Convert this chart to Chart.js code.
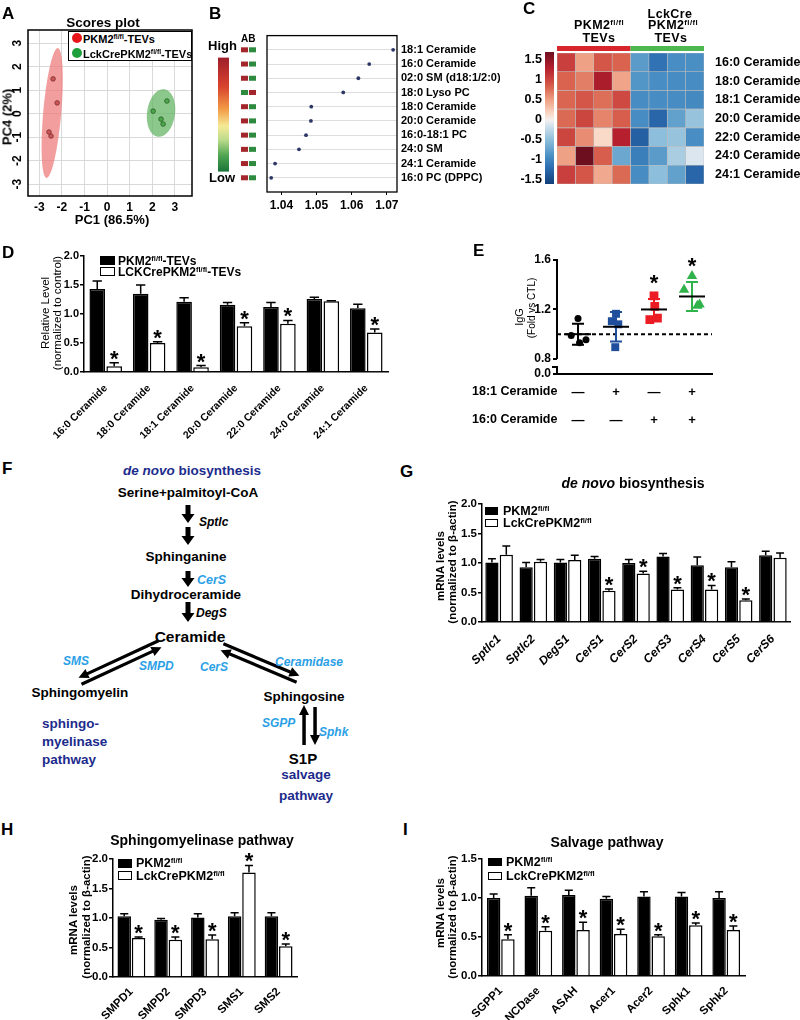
<!DOCTYPE html>
<html>
<head>
<meta charset="utf-8">
<title>Ceramide lipidomics figure</title>
<script src="https://cdn.jsdelivr.net/npm/chart.js@4.4.1/dist/chart.umd.min.js"></script>
<style>
  html, body { margin: 0; padding: 0; background: #fff; }
  #page { position: relative; width: 800px; height: 1020px; overflow: hidden;
          font-family: "Liberation Sans", Arial, sans-serif; font-weight: bold; color: #000; }
  #page canvas, #page svg { position: absolute; }
  .t { position: absolute; white-space: nowrap; line-height: 1; font-size: 12px; }
  .t sup { font-size: 0.62em; position: relative; top: -0.5em; vertical-align: baseline; line-height: 0; }
  .key { position: absolute; box-sizing: border-box; border: 1.5px solid #000; }
</style>
</head>
<body>
<div id="page"></div>
<script>
// ---------- data ----------
// A: PCA scores
const pcaRedX = [-2.39, -2.21, -2.57, -2.48];
const pcaRedY = [1.48, 0.46, -0.78, -0.95];
const pcaGreenX = [2.04, 2.65, 2.39, 2.48];
const pcaGreenY = [0.11, 0.54, -0.23, -0.44];
const pcaRedEllipse = [-2.43, 0.03, 0.40, 2.77, 5];     // cx, cy, rx, ry (data units), tilt deg
const pcaGreenEllipse = [2.39, 0.03, 0.62, 1.02, 8];

// B: VIP scores
const vipLipids = ['18:1 Ceramide', '16:0 Ceramide', '02:0 SM (d18:1/2:0)', '18:0 Lyso PC', '18:0 Ceramide',
                   '20:0 Ceramide', '16:0-18:1 PC', '24:0 SM', '24:1 Ceramide', '16:0 PC (DPPC)'];
const vipScores = [1.0718, 1.0650, 1.0619, 1.0576, 1.0485, 1.0484, 1.0470, 1.0450, 1.0382, 1.0371];
const vipHigherInA = [true, true, true, false, true, true, true, true, true, true];

// C: heatmap (z-scores), rows = lipids, columns = 4 PKM2fl/fl + 4 LckCre samples
const heatLipids = ['16:0 Ceramide', '18:0 Ceramide', '18:1 Ceramide', '20:0 Ceramide', '22:0 Ceramide', '24:0 Ceramide', '24:1 Ceramide'];
const heatSamples = ['WT1', 'WT2', 'WT3', 'WT4', 'KO1', 'KO2', 'KO3', 'KO4'];
const heatValues = [
  [1.05, 0.50, 0.90, 0.82, -0.80, -1.15, -0.92, -0.90],
  [0.82, 0.68, 1.35, 0.48, -0.85, -0.92, -0.93, -0.93],
  [0.80, 0.90, 0.76, 0.98, -0.93, -0.93, -0.93, -0.95],
  [0.78, 1.00, 0.65, 0.85, -0.93, -1.25, -0.75, -0.45],
  [1.00, 0.60, 0.15, 1.30, -1.30, -0.50, -0.45, -0.92],
  [0.50, 1.70, 0.85, -0.70, -1.05, -0.80, -0.35, -0.10],
  [1.05, 0.90, 0.45, 0.78, -0.93, -0.50, -0.75, -1.25]
];
const heatScaleTicks = [1.5, 1, 0.5, 0, -0.5, -1, -1.5];

// D: ceramide levels in TEVs
const ceramideSpecies = ['16:0 Ceramide', '18:0 Ceramide', '18:1 Ceramide', '20:0 Ceramide', '22:0 Ceramide', '24:0 Ceramide', '24:1 Ceramide'];
const tevCtrl = [1.43, 1.35, 1.21, 1.16, 1.12, 1.26, 1.10];
const tevCtrlErr = [0.14, 0.15, 0.07, 0.04, 0.08, 0.03, 0.07];
const tevKo = [0.10, 0.50, 0.08, 0.79, 0.83, 1.22, 0.68];
const tevKoErr = [0.06, 0.02, 0.03, 0.06, 0.06, 0.01, 0.06];
const tevSig = [true, true, true, true, true, false, true];

// E: IgG fold change
const iggCtrl = [1.127, 0.99, 0.93, 0.955];
const igg181 = [1.165, 1.105, 1.08, 0.895];
const igg160 = [1.31, 1.225, 1.118, 1.13];
const iggBoth = [1.47, 1.36, 1.24, 1.23];
const iggMean = [1.00, 1.06, 1.20, 1.305];
const iggSd = [0.085, 0.12, 0.085, 0.118];
const iggSig = [false, false, true, true];
const igg181Row = ['\u2014', '+', '\u2014', '+'];
const igg160Row = ['\u2014', '\u2014', '+', '+'];
const iggTicks = [0.8, 1.2, 1.6];

// G: de novo biosynthesis
const denovoGenes = ['Sptlc1', 'Sptlc2', 'DegS1', 'CerS1', 'CerS2', 'CerS3', 'CerS4', 'CerS5', 'CerS6'];
const denovoCtrl = [1.01, 0.93, 1.01, 1.07, 1.00, 1.11, 0.96, 0.93, 1.13];
const denovoCtrlErr = [0.06, 0.08, 0.05, 0.04, 0.06, 0.05, 0.14, 0.09, 0.07];
const denovoKo = [1.14, 1.02, 1.05, 0.53, 0.82, 0.55, 0.55, 0.37, 1.09];
const denovoKoErr = [0.15, 0.04, 0.08, 0.03, 0.04, 0.03, 0.07, 0.02, 0.08];
const denovoSig = [false, false, false, true, true, true, true, true, false];

// H: sphingomyelinase pathway
const smGenes = ['SMPD1', 'SMPD2', 'SMPD3', 'SMS1', 'SMS2'];
const smCtrl = [1.03, 0.97, 1.01, 1.03, 1.03];
const smCtrlErr = [0.04, 0.02, 0.06, 0.06, 0.06];
const smKo = [0.66, 0.63, 0.64, 1.77, 0.52];
const smKoErr = [0.02, 0.05, 0.07, 0.12, 0.04];
const smSig = [true, true, true, true, true];

// I: salvage pathway
const salvGenes = ['SGPP1', 'NCDase', 'ASAH', 'Acer1', 'Acer2', 'Sphk1', 'Sphk2'];
const salvCtrl = [1.00, 1.03, 1.04, 0.99, 1.02, 1.02, 1.00];
const salvCtrlErr = [0.05, 0.10, 0.06, 0.03, 0.06, 0.05, 0.08];
const salvKo = [0.47, 0.58, 0.59, 0.54, 0.51, 0.65, 0.59];
const salvKoErr = [0.06, 0.05, 0.10, 0.06, 0.02, 0.03, 0.05];
const salvSig = [true, true, true, true, true, true, true];

// ---------- styles ----------
const FONT = '"Liberation Sans", Arial, sans-serif';
const DARK_BLUE = '#1c2b8c';
const LIGHT_BLUE = '#2b9fe6';
const KEY_RED = '#a3262d';
const KEY_GREEN = '#2e8a3e';
const vipGradient = [[0, '#9e1f2a'], [0.25, '#d8412d'], [0.45, '#f29a45'], [0.6, '#f6ea95'], [0.72, '#bcdc8c'], [0.86, '#4fa552'], [1, '#1a7438']];
const heatStops = [[-1.6, [18, 63, 120]], [-1.2, [43, 108, 176]], [-0.9, [74, 143, 196]], [-0.5, [141, 190, 219]],
                   [-0.1, [220, 230, 238]], [0, [245, 240, 238]], [0.15, [249, 217, 200]], [0.5, [239, 161, 133]],
                   [0.8, [218, 102, 81]], [1.0, [204, 70, 64]], [1.3, [181, 31, 46]], [1.7, [109, 15, 31]]];
const iggColors = ['#000000', '#1f4e9c', '#ec1c24', '#2fb34a'];
const iggShapes = ['circle', 'rect', 'rect', 'triangle'];
const iggRadius = [3.5, 5.6, 6.2, 6];
const iggJitter = [[0, -0.18, 0.04, 0.21], [0, -0.11, 0.06, -0.02], [0, 0.02, -0.11, 0.09], [0, -0.21, 0.2, 0.14]];

Chart.defaults.font.family = FONT;
Chart.defaults.font.weight = 'bold';
Chart.defaults.color = '#000';
Chart.defaults.animation = false;
Chart.defaults.plugins.legend.display = false;
Chart.defaults.plugins.tooltip.enabled = false;

const page = document.getElementById('page');

function canvasAt(box) {
  const c = document.createElement('canvas');
  c.width = box.w; c.height = box.h;
  c.style.left = box.x + 'px'; c.style.top = box.y + 'px';
  page.appendChild(c);
  return c;
}

function put(html, x, y, mode, css) {
  const d = document.createElement('div');
  d.className = 't';
  d.innerHTML = html;
  d.style.left = x + 'px';
  d.style.top = y + 'px';
  const tf = { l: 'translate(0,-50%)', c: 'translate(-50%,-50%)', r: 'translate(-100%,-50%)', v: 'translate(-50%,-50%) rotate(-90deg)' };
  d.style.transform = tf[mode || 'l'];
  if (css) d.style.cssText += css;
  page.appendChild(d);
  return d;
}

function key(x, y, w, h, filled) {
  const d = document.createElement('div');
  d.className = 'key';
  d.style.cssText += `left:${x}px;top:${y}px;width:${w}px;height:${h}px;background:${filled ? '#000' : '#fff'}`;
  page.appendChild(d);
}

// canvas box + wanted plot area (page px) -> padding and axis sizes
function frame(box, area, yRight) {
  const right = box.x + box.w - area.r;
  return {
    padding: { top: area.t - box.y, bottom: 0, left: yRight ? area.l - box.x : 0, right: yRight ? 0 : right },
    yWidth: yRight ? right : area.l - box.x,
    xHeight: box.y + box.h - area.b
  };
}

function outline(w) {
  return {
    id: 'outline',
    afterDraw(chart) {
      const { ctx, chartArea: a } = chart;
      ctx.save();
      ctx.strokeStyle = '#000';
      ctx.lineWidth = w;
      ctx.strokeRect(a.left, a.top, a.right - a.left, a.bottom - a.top);
      ctx.restore();
    }
  };
}

// asterisk whose lower edge sits just above y
function drawStar(ctx, x, y) {
  ctx.font = 'bold 22px ' + FONT;
  ctx.textAlign = 'center';
  ctx.textBaseline = 'alphabetic';
  ctx.fillStyle = '#000';
  ctx.fillText('*', x, y + 5);
}

const errorBars = {
  id: 'errorBars',
  afterDatasetsDraw(chart) {
    const { ctx } = chart;
    const y = chart.scales.y;
    ctx.save();
    chart.data.datasets.forEach((ds, i) => {
      chart.getDatasetMeta(i).data.forEach((bar, j) => {
        const top = y.getPixelForValue(ds.data[j] + ds.errors[j]);
        const cap = bar.width * 0.3;
        ctx.strokeStyle = '#000';
        ctx.lineWidth = 1.5;
        ctx.beginPath();
        ctx.moveTo(bar.x, bar.y);
        ctx.lineTo(bar.x, top);
        ctx.moveTo(bar.x - cap, top);
        ctx.lineTo(bar.x + cap, top);
        ctx.stroke();
        if (ds.stars && ds.stars[j]) drawStar(ctx, bar.x, top - 2);
      });
    });
    ctx.restore();
  }
};

function groupedBars(box, area, labels, ctrl, ctrlErr, ko, koErr, sig, o) {
  const f = frame(box, area);
  return new Chart(canvasAt(box), {
    type: 'bar',
    data: {
      labels: labels,
      datasets: [
        { data: ctrl, errors: ctrlErr, backgroundColor: '#000', borderColor: '#000', borderWidth: 1.5 },
        { data: ko, errors: koErr, stars: sig, backgroundColor: '#fff', borderColor: '#000', borderWidth: 1.5 }
      ]
    },
    options: {
      responsive: false,
      layout: { padding: f.padding },
      datasets: { bar: { categoryPercentage: o.cat, barPercentage: o.bar } },
      scales: {
        x: {
          grid: { display: false },
          border: { color: '#000', width: 1.5 },
          ticks: { minRotation: 45, maxRotation: 45, autoSkip: false, padding: o.xPad,
                   font: { size: o.xFont, weight: 'bold', style: o.italic ? 'italic' : 'normal' } },
          afterFit: s => { s.height = f.xHeight; }
        },
        y: {
          min: 0, max: o.yMax,
          ticks: { stepSize: 0.5, callback: v => v.toFixed(1), font: { size: o.yFont }, padding: 1 },
          grid: { drawOnChartArea: false, color: '#000', lineWidth: 1.5, tickLength: 4 },
          border: { color: '#000', width: 1.5 },
          afterFit: s => { s.width = f.yWidth; }
        }
      }
    },
    plugins: [errorBars]
  });
}

// ---------- A: scores plot ----------
const ellipses = {
  id: 'ellipses',
  beforeDatasetsDraw(chart) {
    const { ctx, scales: { x, y } } = chart;
    chart.data.datasets.forEach(ds => {
      const e = ds.ellipse;
      const cx = x.getPixelForValue(e[0]), cy = y.getPixelForValue(e[1]);
      const rx = Math.abs(x.getPixelForValue(e[0] + e[2]) - cx);
      const ry = Math.abs(y.getPixelForValue(e[1] + e[3]) - cy);
      ctx.save();
      ctx.fillStyle = ds.ellipseColor;
      ctx.beginPath();
      ctx.ellipse(cx, cy, rx, ry, e[4] * Math.PI / 180, 0, Math.PI * 2);
      ctx.fill();
      ctx.restore();
    });
  }
};

const rotatedYTicks = {
  id: 'rotatedYTicks',
  afterDraw(chart) {
    const { ctx, chartArea: a, scales: { y } } = chart;
    ctx.save();
    ctx.font = 'bold 12px ' + FONT;
    ctx.fillStyle = '#000';
    ctx.textAlign = 'center';
    ctx.textBaseline = 'middle';
    y.ticks.forEach(t => {
      ctx.save();
      ctx.translate(a.left - 10, y.getPixelForValue(t.value));
      ctx.rotate(-Math.PI / 2);
      ctx.fillText(String(t.value), 0, 0);
      ctx.restore();
    });
    ctx.restore();
  }
};

const boxA = { x: 0, y: 20, w: 200, h: 195 };
const fA = frame(boxA, { l: 28, t: 30, r: 192, b: 196 });
new Chart(canvasAt(boxA), {
  type: 'scatter',
  data: {
    datasets: [
      { data: pcaRedX.map((x, i) => ({ x, y: pcaRedY[i] })), ellipse: pcaRedEllipse, ellipseColor: 'rgba(238,120,120,0.72)',
        backgroundColor: '#c95757', borderColor: '#7d2b2b', borderWidth: 0.8, pointRadius: 2.3 },
      { data: pcaGreenX.map((x, i) => ({ x, y: pcaGreenY[i] })), ellipse: pcaGreenEllipse, ellipseColor: 'rgba(96,178,96,0.72)',
        backgroundColor: '#4ea64e', borderColor: '#1f5f1f', borderWidth: 0.8, pointRadius: 2.3 }
    ]
  },
  options: {
    responsive: false,
    layout: { padding: fA.padding },
    scales: {
      x: { min: -3.5, max: 3.76, ticks: { stepSize: 1, includeBounds: false, font: { size: 12 }, padding: 4 },
           grid: { color: '#d9d9d9', drawTicks: false }, border: { display: false },
           afterFit: s => { s.height = fA.xHeight; } },
      y: { min: -3.5, max: 3.56, ticks: { display: false, stepSize: 1, includeBounds: false },
           grid: { color: '#d9d9d9', drawTicks: false }, border: { display: false },
           afterFit: s => { s.width = fA.yWidth; } }
    }
  },
  plugins: [ellipses, outline(1.5), rotatedYTicks]
});

// ---------- B: VIP plot ----------
const vipKey = {
  id: 'vipKey',
  afterDraw(chart) {
    const { ctx, chartArea: a, scales: { y } } = chart;
    ctx.save();
    const gTop = a.top + 22, gBot = a.top + 136;
    const g = ctx.createLinearGradient(0, gTop, 0, gBot);
    vipGradient.forEach(([p, c]) => g.addColorStop(p, c));
    ctx.fillStyle = g;
    ctx.fillRect(a.left - 49, gTop, 11, gBot - gTop);
    ctx.fillStyle = '#000';
    ctx.textAlign = 'left';
    ctx.textBaseline = 'middle';
    ctx.font = 'bold 13px ' + FONT;
    ctx.fillText('High', a.left - 59, a.top + 11);
    ctx.fillText('Low', a.left - 58, a.top + 143);
    ctx.font = 'bold 10px ' + FONT;
    ctx.fillText('AB', a.left - 26, a.top + 4);
    vipHigherInA.forEach((hi, i) => {
      const py = y.getPixelForValue(i + 1);
      ctx.fillStyle = hi ? KEY_RED : KEY_GREEN;
      ctx.fillRect(a.left - 26, py - 2.5, 7, 5);
      ctx.fillStyle = hi ? KEY_GREEN : KEY_RED;
      ctx.fillRect(a.left - 18, py - 2.5, 7, 5);
    });
    ctx.restore();
  }
};

const boxB = { x: 200, y: 25, w: 300, h: 190 };
const fB = frame(boxB, { l: 267, t: 34, r: 397, b: 192 }, true);
new Chart(canvasAt(boxB), {
  type: 'scatter',
  data: { datasets: [{ data: vipScores.map((v, i) => ({ x: v, y: i + 1 })), backgroundColor: '#2d3766', borderWidth: 0, pointRadius: 1.9 }] },
  options: {
    responsive: false,
    layout: { padding: fB.padding },
    scales: {
      x: { min: 1.0359, max: 1.0729,
           ticks: { stepSize: 0.01, includeBounds: false, callback: v => v.toFixed(2), font: { size: 12 }, padding: 3 },
           grid: { drawOnChartArea: false, color: '#000', tickLength: 3 }, border: { display: false },
           afterFit: s => { s.height = fB.xHeight; } },
      y: { position: 'right', reverse: true, min: 0, max: vipLipids.length + 1,
           afterBuildTicks: s => { s.ticks = s.ticks.filter(t => t.value >= 1 && t.value <= vipLipids.length); },
           ticks: { stepSize: 1, callback: v => vipLipids[v - 1], font: { size: 11 }, padding: 4 },
           grid: { color: '#dedede', drawTicks: false }, border: { display: false },
           afterFit: s => { s.width = fB.yWidth; } }
    }
  },
  plugins: [outline(1.3), vipKey]
});

// ---------- C: heatmap ----------
function heatColour(v) {
  const s = heatStops;
  let c = s[s.length - 1][1];
  if (v <= s[0][0]) c = s[0][1];
  else {
    for (let i = 1; i < s.length; i++) {
      if (v <= s[i][0]) {
        const t = (v - s[i - 1][0]) / (s[i][0] - s[i - 1][0]);
        c = s[i - 1][1].map((ch, k) => Math.round(ch + (s[i][1][k] - ch) * t));
        break;
      }
    }
  }
  return `rgb(${c[0]},${c[1]},${c[2]})`;
}

const heatExtras = {
  id: 'heatExtras',
  afterDraw(chart) {
    const { ctx, chartArea: a, scales: { x } } = chart;
    ctx.save();
    const half = heatSamples.length / 2;
    ctx.fillStyle = '#d7262b';
    ctx.fillRect(x.getPixelForValue(0), a.top - 7, x.getPixelForValue(half) - x.getPixelForValue(0), 5);
    ctx.fillStyle = '#4db84f';
    ctx.fillRect(x.getPixelForValue(half), a.top - 7, x.getPixelForValue(heatSamples.length) - x.getPixelForValue(half), 5);
    // colour scale
    const top = a.top - 1, bot = a.bottom, vTop = 1.7, vBot = -1.6;
    const toPx = v => top + (vTop - v) / (vTop - vBot) * (bot - top);
    const g = ctx.createLinearGradient(0, top, 0, bot);
    heatStops.forEach(([v, c]) => g.addColorStop((vTop - v) / (vTop - vBot), `rgb(${c[0]},${c[1]},${c[2]})`));
    ctx.fillStyle = g;
    ctx.fillRect(a.left - 12, top, 9, bot - top);
    ctx.fillStyle = '#000';
    ctx.font = 'bold 12.5px ' + FONT;
    ctx.textAlign = 'right';
    ctx.textBaseline = 'middle';
    heatScaleTicks.forEach(v => ctx.fillText(String(v), a.left - 15, toPx(v)));
    ctx.restore();
  }
};

const boxC = { x: 500, y: 0, w: 300, h: 200 };
const fC = frame(boxC, { l: 557, t: 53, r: 704, b: 184 }, true);
fC.padding.bottom = fC.xHeight;
new Chart(canvasAt(boxC), {
  type: 'bar',
  data: {
    labels: heatLipids,
    datasets: heatSamples.map((name, j) => ({
      label: name,
      data: heatLipids.map(() => 1),
      backgroundColor: heatValues.map(row => heatColour(row[j])),
      borderColor: 'rgba(185,185,185,0.9)',
      borderWidth: 0.6,
      borderSkipped: false,
      barPercentage: 1,
      categoryPercentage: 1
    }))
  },
  options: {
    responsive: false,
    indexAxis: 'y',
    layout: { padding: fC.padding },
    scales: {
      x: { stacked: true, min: 0, max: heatSamples.length, display: false },
      y: { stacked: true, position: 'right', grid: { display: false }, border: { display: false },
           ticks: { font: { size: 12.5 }, padding: 3 }, afterFit: s => { s.width = fC.yWidth; } }
    }
  },
  plugins: [heatExtras]
});

// ---------- D: ceramide levels ----------
groupedBars({ x: 0, y: 240, w: 400, h: 200 }, { l: 84, t: 256, r: 388, b: 372 },
  ceramideSpecies, tevCtrl, tevCtrlErr, tevKo, tevKoErr, tevSig,
  { cat: 0.78, bar: 0.92, yMax: 2, xFont: 10.5, xPad: 2, yFont: 11, italic: false });

// ---------- E: IgG dot plot ----------
const dotPlot = {
  id: 'dotPlot',
  beforeDatasetsDraw(chart) {
    const { ctx, chartArea: a, scales: { y } } = chart;
    ctx.save();
    ctx.strokeStyle = '#000';
    ctx.lineWidth = 2;
    const yBreak = y.getPixelForValue(iggTicks[0]);
    ctx.beginPath();
    ctx.moveTo(a.left, a.top - 1);
    ctx.lineTo(a.left, yBreak);
    ctx.moveTo(a.left, yBreak + 8);
    ctx.lineTo(a.left, a.bottom + 1);
    ctx.moveTo(a.left - 5, yBreak + 8);
    ctx.lineTo(a.left + 1, yBreak + 8);
    ctx.stroke();
    ctx.setLineDash([4, 3]);
    const y1 = y.getPixelForValue(1);
    ctx.beginPath();
    ctx.moveTo(a.left, y1);
    ctx.lineTo(a.right, y1);
    ctx.stroke();
    ctx.restore();
  },
  afterDatasetsDraw(chart) {
    const { ctx, scales: { x, y } } = chart;
    ctx.save();
    ctx.lineWidth = 2;
    iggMean.forEach((m, i) => {
      const cx = x.getPixelForValue(i + 1);
      const ym = y.getPixelForValue(m), yt = y.getPixelForValue(m + iggSd[i]), yb = y.getPixelForValue(m - iggSd[i]);
      ctx.strokeStyle = iggColors[i];
      ctx.beginPath();
      ctx.moveTo(cx, yt); ctx.lineTo(cx, yb);
      ctx.moveTo(cx - 6, yt); ctx.lineTo(cx + 6, yt);
      ctx.moveTo(cx - 6, yb); ctx.lineTo(cx + 6, yb);
      ctx.stroke();
      ctx.strokeStyle = '#000';
      ctx.beginPath();
      ctx.moveTo(cx - 13, ym); ctx.lineTo(cx + 13, ym);
      ctx.stroke();
      if (iggSig[i]) drawStar(ctx, cx, yt - 14);
    });
    ctx.restore();
  }
};

const boxE = { x: 460, y: 240, w: 300, h: 145 };
const fE = frame(boxE, { l: 557, t: 260, r: 712, b: 374 });
new Chart(canvasAt(boxE), {
  type: 'scatter',
  data: {
    datasets: [iggCtrl, igg181, igg160, iggBoth].map((vals, i) => ({
      data: vals.map((v, k) => ({ x: i + 1 + iggJitter[i][k], y: v })),
      pointStyle: iggShapes[i], pointRadius: iggRadius[i],
      backgroundColor: iggColors[i], borderColor: iggColors[i], borderWidth: 0
    }))
  },
  options: {
    responsive: false,
    layout: { padding: fE.padding },
    scales: {
      x: { min: 0.447, max: 4.526, ticks: { display: false }, grid: { display: false },
           border: { color: '#000', width: 2 }, afterFit: s => { s.height = fE.xHeight; } },
      y: { min: 0.678, max: 1.6,
           afterBuildTicks: s => { s.ticks = [{ value: s.min }].concat(iggTicks.map(v => ({ value: v }))); },
           ticks: { callback: v => (v < iggTicks[0] ? '0.0' : v.toFixed(1)), font: { size: 12 }, padding: 2 },
           grid: { drawOnChartArea: false, color: '#000', lineWidth: 2, tickLength: 4 },
           border: { display: false }, afterFit: s => { s.width = fE.yWidth; } }
    }
  },
  plugins: [dotPlot]
});

// ---------- G, H, I: mRNA levels ----------
groupedBars({ x: 400, y: 490, w: 400, h: 180 }, { l: 482, t: 504, r: 790, b: 622 },
  denovoGenes, denovoCtrl, denovoCtrlErr, denovoKo, denovoKoErr, denovoSig,
  { cat: 0.84, bar: 0.92, yMax: 2, xFont: 12, xPad: 2, yFont: 11.5, italic: true });

groupedBars({ x: 0, y: 845, w: 320, h: 175 }, { l: 113, t: 859, r: 297, b: 977 },
  smGenes, smCtrl, smCtrlErr, smKo, smKoErr, smSig,
  { cat: 0.78, bar: 0.94, yMax: 2, xFont: 11.5, xPad: 0, yFont: 11.5, italic: false });

groupedBars({ x: 400, y: 845, w: 400, h: 175 }, { l: 482, t: 859, r: 745, b: 976 },
  salvGenes, salvCtrl, salvCtrlErr, salvKo, salvKoErr, salvSig,
  { cat: 0.76, bar: 0.94, yMax: 1.5, xFont: 11.5, xPad: 0, yFont: 11.5, italic: false });

// ---------- F: pathway diagram ----------
const NS = 'http://www.w3.org/2000/svg';
const svg = document.createElementNS(NS, 'svg');
svg.setAttribute('width', 400);
svg.setAttribute('height', 360);
svg.setAttribute('viewBox', '0 450 400 360');
svg.style.left = '0px';
svg.style.top = '450px';
page.appendChild(svg);

function svgText(html, x, y, size, color, anchor, italic) {
  const t = document.createElementNS(NS, 'text');
  t.setAttribute('x', x);
  t.setAttribute('y', y);
  t.setAttribute('text-anchor', anchor || 'middle');
  t.setAttribute('dominant-baseline', 'central');
  t.setAttribute('font-family', FONT);
  t.setAttribute('font-weight', 'bold');
  t.setAttribute('font-size', size);
  if (italic) t.setAttribute('font-style', 'italic');
  t.setAttribute('fill', color || '#000');
  t.innerHTML = html;
  svg.appendChild(t);
}

function arrow(x1, y1, x2, y2, shaft, headW, headL) {
  const dx = x2 - x1, dy = y2 - y1, len = Math.hypot(dx, dy);
  const ux = dx / len, uy = dy / len, px = -uy, py = ux;
  const bx = x2 - ux * headL, by = y2 - uy * headL, s = shaft / 2, h = headW / 2;
  const pts = [[x1 + px * s, y1 + py * s], [bx + px * s, by + py * s], [bx + px * h, by + py * h], [x2, y2],
               [bx - px * h, by - py * h], [bx - px * s, by - py * s], [x1 - px * s, y1 - py * s]];
  const p = document.createElementNS(NS, 'path');
  p.setAttribute('d', 'M' + pts.map(q => q[0].toFixed(1) + ',' + q[1].toFixed(1)).join('L') + 'Z');
  p.setAttribute('fill', '#000');
  svg.appendChild(p);
}

svgText('<tspan font-style="italic">de novo</tspan> biosynthesis', 192, 470, 13.5, DARK_BLUE);
svgText('Serine+palmitoyl-CoA', 188, 492, 13.5);
arrow(188, 505, 188, 523, 5, 13, 9);
arrow(188, 527, 188, 545, 5, 13, 9);
svgText('Sptlc', 199, 522, 12, '#000', 'start', true);
svgText('Sphinganine', 186, 556, 13.5);
arrow(188, 571, 188, 587, 5, 13, 9);
svgText('CerS', 197, 580, 12.5, LIGHT_BLUE, 'start', true);
svgText('Dihydroceramide', 186, 594, 13.5);
arrow(188, 602, 188, 622, 5, 13, 9);
svgText('DegS', 196, 613, 12, '#000', 'start', true);
svgText('Ceramide', 190, 636, 15.5);

arrow(158.5, 640.8, 78.5, 677.8, 3.2, 10, 10);
arrow(81.5, 684.2, 161.5, 647.2, 3.2, 10, 10);
svgText('SMS', 63, 661, 12, LIGHT_BLUE, 'start', true);
svgText('SMPD', 139, 666, 12, LIGHT_BLUE, 'start', true);
svgText('Sphingomyelin', 80, 692, 13.5);

arrow(223.4, 643.8, 299.4, 675.8, 3.2, 10, 10);
arrow(296.6, 682.2, 220.6, 650.2, 3.2, 10, 10);
svgText('CerS', 200, 667, 12, LIGHT_BLUE, 'start', true);
svgText('Ceramidase', 275, 662, 12, LIGHT_BLUE, 'start', true);
svgText('Sphingosine', 304, 696, 13.5);

arrow(304, 745, 304, 705, 3.5, 10, 10);
arrow(315, 707, 315, 745, 3.5, 10, 10);
svgText('SGPP', 262, 723, 12, LIGHT_BLUE, 'start', true);
svgText('Sphk', 319, 732, 12, LIGHT_BLUE, 'start', true);
svgText('S1P', 303, 758, 15);
svgText('salvage', 306, 774, 13.5, DARK_BLUE);
svgText('pathway', 306, 795, 13.5, DARK_BLUE);
svgText('sphingo-', 42, 723, 13.5, DARK_BLUE, 'start');
svgText('myelinase', 42, 741, 13.5, DARK_BLUE, 'start');
svgText('pathway', 42, 759, 13.5, DARK_BLUE, 'start');

// ---------- HTML text: letters, titles, legends ----------
const LET = 'font-size:17px';
put('A', 2, 13, 'l', LET);
put('B', 209, 13, 'l', LET);
put('C', 523, 8, 'l', LET);
put('D', 2, 252, 'l', LET);
put('E', 473, 250, 'l', LET);
put('F', 2, 468, 'l', LET);
put('G', 400, 471, 'l', LET);
put('H', 1, 829, 'l', LET);
put('I', 403, 829, 'l', LET);

// A
put('Scores plot', 103, 23, 'c', 'font-size:13.5px');
put('PC4 (2%)', 7, 117, 'v', 'font-size:13px');
put('PC1 (86.5%)', 112, 219, 'c', 'font-size:13px');
const legA = document.createElement('div');
legA.style.cssText = 'position:absolute;left:68px;top:31px;width:124px;height:30px;box-sizing:border-box;border:1.5px solid #000;background:#fff;';
page.appendChild(legA);
[['#e8141c', 38], ['#1f9e3c', 53]].forEach(([c, cy]) => {
  const d = document.createElement('div');
  d.style.cssText = `position:absolute;left:72px;top:${cy - 5}px;width:10px;height:10px;border-radius:50%;background:${c};`;
  page.appendChild(d);
});
put('PKM2<sup>fl/fl</sup>-TEVs', 83, 38.5, 'l', 'font-size:11px');
put('LckCrePKM2<sup>fl/fl</sup>-TEVs', 83, 53.5, 'l', 'font-size:11px');

// C headers
const HC = 'font-size:12.5px;letter-spacing:0.4px';
put('PKM2<sup>fl/fl</sup>', 599, 25, 'c', HC);
put('TEVs', 599, 38, 'c', HC);
put('LckCre', 670, 14, 'c', HC);
put('PKM2<sup>fl/fl</sup>', 673, 25, 'c', HC);
put('TEVs', 671, 38, 'c', HC);

// D
put('Relative Level', 46, 313, 'v', 'font-size:11.5px;font-weight:normal');
put('(normalized to control)', 58, 313, 'v', 'font-size:11.5px;font-weight:normal');
key(100, 256, 15, 9, true);
put('PKM2<sup>fl/fl</sup>-TEVs', 118, 260.5, 'l', 'font-size:12px');
key(100, 267, 15, 9, false);
put('LCKCrePKM2<sup>fl/fl</sup>-TEVs', 118, 271.5, 'l', 'font-size:12px');

// E
put('IgG', 519, 317, 'v', 'font-size:11px;font-weight:normal');
put('(Fold vs CTL)', 532, 308, 'v', 'font-size:10px;font-weight:normal');
put('18:1 Ceramide', 472, 391, 'l', 'font-size:12.5px');
put('16:0 Ceramide', 472, 419, 'l', 'font-size:12.5px');
const iggCentres = [578, 616, 654, 692];
igg181Row.forEach((s, i) => put(s, iggCentres[i], 391, 'c', 'font-size:13px'));
igg160Row.forEach((s, i) => put(s, iggCentres[i], 419, 'c', 'font-size:13px'));

// G
put('<i>de novo</i> biosynthesis', 633, 483, 'c', 'font-size:14px');
put('mRNA levels', 441, 566, 'v', 'font-size:11.5px');
put('(normalized to \u03b2-actin)', 453, 562, 'v', 'font-size:11.5px');
key(485, 507, 13, 8, true);
put('PKM2<sup>fl/fl</sup>', 503, 511, 'l', 'font-size:12.5px');
key(485, 519, 13, 8, false);
put('LckCrePKM2<sup>fl/fl</sup>', 503, 523, 'l', 'font-size:12.5px');

// H
put('Sphingomyelinase pathway', 202, 840, 'c', 'font-size:14px');
put('mRNA levels', 74, 920, 'v', 'font-size:11.5px');
put('(normalized to \u03b2-actin)', 87, 917, 'v', 'font-size:11.5px');
key(118, 859, 14, 9, true);
put('PKM2<sup>fl/fl</sup>', 136, 863, 'l', 'font-size:12.5px');
key(118, 871, 14, 9, false);
put('LckCrePKM2<sup>fl/fl</sup>', 136, 875.5, 'l', 'font-size:12.5px');

// I
put('Salvage pathway', 607, 842, 'c', 'font-size:14px');
put('mRNA levels', 441, 913, 'v', 'font-size:11.5px');
put('(normalized to \u03b2-actin)', 453, 917, 'v', 'font-size:11.5px');
key(488, 858, 14, 8, true);
put('PKM2<sup>fl/fl</sup>', 506, 862, 'l', 'font-size:12.5px');
key(488, 872, 14, 8, false);
put('LckCrePKM2<sup>fl/fl</sup>', 506, 876, 'l', 'font-size:12.5px');
</script>
</body>
</html>
